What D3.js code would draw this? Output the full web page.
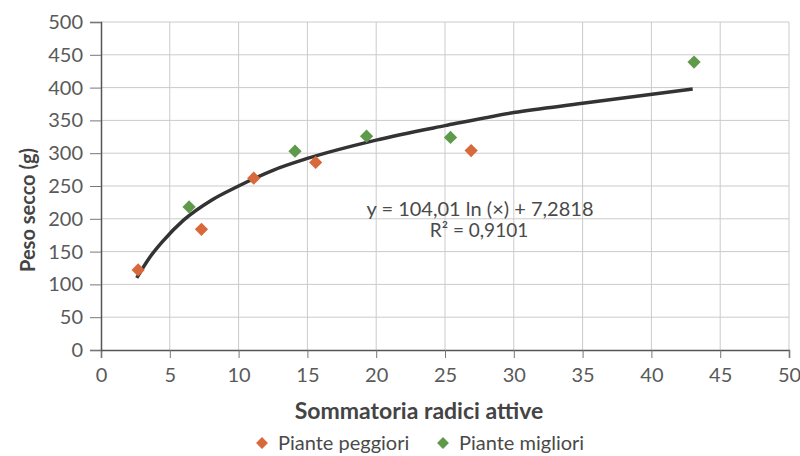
<!DOCTYPE html>
<html>
<head>
<meta charset="utf-8">
<script src="https://cdn.jsdelivr.net/npm/d3@7"></script>
<style>
  body { margin: 0; background: #fff; }
  text { font-family: Lato, "Open Sans", sans-serif; }
</style>
</head>
<body>
<div id="chart"></div>
<script>
var width = 800;
var height = 456;

// Piante peggiori
var peggioriX = [2.7, 7.3, 11.1, 15.6, 26.9];
var peggioriY = [122, 184, 262, 286, 304];
// Piante migliori
var miglioriX = [6.4, 14.1, 19.3, 25.4, 43.1];
var miglioriY = [218, 303, 326, 324, 439];
// trend line
var trendX = [2.6, 3.5, 4.5, 6, 8, 10, 12.5, 15, 20, 25, 30, 35, 43];
var trendY = [110, 140, 166, 198, 228, 250, 274, 292, 320, 342, 362, 376, 398];

var xTicks = [0, 5, 10, 15, 20, 25, 30, 35, 40, 45, 50];
var yTicks = [0, 50, 100, 150, 200, 250, 300, 350, 400, 450, 500];
var seriesNames = ["Piante peggiori", "Piante migliori"];
var seriesColors = ["#d8693b", "#5f9a4c"];

var margin = {left: 101, right: 11, top: 22, bottom: 106};

var svg = d3.select("#chart")
    .append("svg")
    .attr("width", width)
    .attr("height", height);

var x = d3.scaleLinear().domain([0, 50]).range([margin.left, width - margin.right]);
var y = d3.scaleLinear().domain([0, 500]).range([height - margin.bottom, margin.top]);

// grid
svg.append("g").selectAll("line")
    .data(yTicks.slice(1))
    .enter().append("line")
    .attr("x1", x(0)).attr("x2", x(50))
    .attr("y1", function(d) { return y(d); })
    .attr("y2", function(d) { return y(d); })
    .attr("stroke", "#cbcbcb").attr("stroke-width", 1);

svg.append("g").selectAll("line")
    .data(xTicks.slice(1))
    .enter().append("line")
    .attr("y1", y(0)).attr("y2", y(500))
    .attr("x1", function(d) { return x(d); })
    .attr("x2", function(d) { return x(d); })
    .attr("stroke", "#cbcbcb").attr("stroke-width", 1);

// axes
var xAxis = svg.append("g")
    .attr("transform", "translate(0," + y(0) + ")")
    .call(d3.axisBottom(x).tickValues(xTicks).tickSize(8).tickPadding(10));
var yAxis = svg.append("g")
    .attr("transform", "translate(" + x(0) + ",0)")
    .call(d3.axisLeft(y).tickValues(yTicks).tickSize(11).tickPadding(7));

[xAxis, yAxis].forEach(function(a) {
  a.select(".domain").attr("stroke", "#555").attr("stroke-width", 1.5);
  a.selectAll(".tick line").attr("stroke", "#777");
  a.selectAll("text")
    .attr("fill", "#5a5a5a")
    .style("font-size", "20px")
    .style("font-weight", "400")
    .style("font-family", "Lato, 'Open Sans', sans-serif");
});

// trend line
var trend = trendX.map(function(v, i) { return [v, trendY[i]]; });
svg.append("path")
    .datum(trend)
    .attr("fill", "none")
    .attr("stroke", "#333")
    .attr("stroke-width", 3.5)
    .attr("d", d3.line()
      .x(function(d) { return x(d[0]); })
      .y(function(d) { return y(d[1]); })
      .curve(d3.curveMonotoneX));

// points
var diamond = d3.symbol().type(d3.symbolDiamond2).size(112);
var series = [
  {xs: peggioriX, ys: peggioriY, color: seriesColors[0]},
  {xs: miglioriX, ys: miglioriY, color: seriesColors[1]}
];
series.forEach(function(s) {
  svg.append("g").selectAll("path")
    .data(s.xs.map(function(v, i) { return [v, s.ys[i]]; }))
    .enter().append("path")
    .attr("d", diamond)
    .attr("transform", function(d) { return "translate(" + x(d[0]) + "," + y(d[1]) + ")"; })
    .attr("fill", s.color);
});

// equation
svg.append("text")
    .attr("x", 480).attr("y", 216)
    .attr("text-anchor", "middle")
    .attr("fill", "#4a4a4a")
    .style("font-size", "20px")
    .text("y = 104,01 ln (×) + 7,2818");
svg.append("text")
    .attr("x", 479).attr("y", 237)
    .attr("text-anchor", "middle")
    .attr("fill", "#4a4a4a")
    .style("font-size", "19px")
    .text("R² = 0,9101");

// axis titles
svg.append("text")
    .attr("x", 419).attr("y", 419)
    .attr("text-anchor", "middle")
    .attr("fill", "#444")
    .style("font-size", "23px")
    .style("font-weight", "bold")
    .text("Sommatoria radici attive");

svg.append("text")
    .attr("transform", "translate(35,210) rotate(-90)")
    .attr("text-anchor", "middle")
    .attr("fill", "#444")
    .style("font-size", "20px")
    .style("font-weight", "bold")
    .text("Peso secco (g)");

// legend
var legendX = [262, 443];
var legend = svg.append("g").selectAll("g")
    .data(seriesNames)
    .enter().append("g")
    .attr("transform", function(d, i) { return "translate(" + legendX[i] + ",443)"; });
legend.append("path")
    .attr("d", d3.symbol().type(d3.symbolDiamond2).size(90))
    .attr("fill", function(d, i) { return seriesColors[i]; });
legend.append("text")
    .attr("x", 16).attr("y", 7)
    .attr("fill", "#4a4a4a")
    .style("font-size", "20px")
    .text(function(d) { return d; });
</script>
</body>
</html>
